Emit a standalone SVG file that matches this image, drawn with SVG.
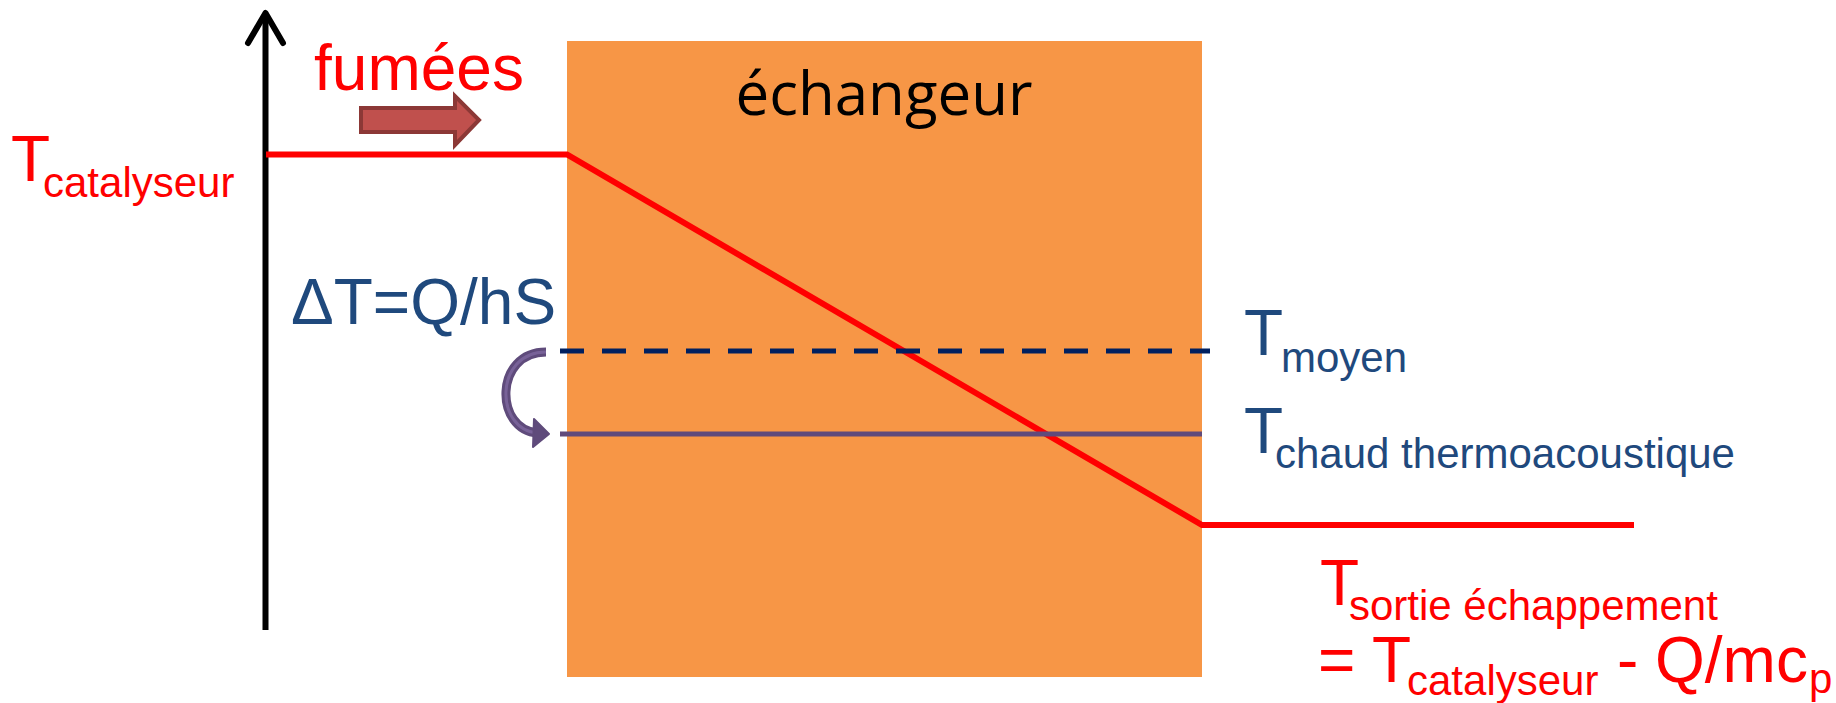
<svg xmlns="http://www.w3.org/2000/svg" width="1836" height="703" viewBox="0 0 1836 703">
<style>
.red{fill:#FF0000;font-family:"Liberation Sans",Arial,sans-serif}
.blue{fill:#1F497D;font-family:"Liberation Sans",Arial,sans-serif}
.big{font-size:64px}
.sub{font-size:42px}
</style>
<rect width="1836" height="703" fill="#FFFFFF"/>
<g id="echangeur">
<rect x="567" y="41" width="635" height="636" fill="#F79646"/>
<text x="884" y="115" text-anchor="middle" font-family="'Open Sans','DejaVu Sans',sans-serif" font-size="60" fill="#000000">échangeur</text>
</g>
<g id="axis">
<line x1="265.5" y1="630" x2="265.5" y2="16" stroke="#000000" stroke-width="6"/>
<polyline points="248,43 265.5,13 283,43" fill="none" stroke="#000000" stroke-width="6" stroke-linecap="round" stroke-linejoin="round"/>
</g>
<g id="fumees">
<text x="314" y="90" class="red" font-size="64">fumées</text>
<polygon points="361,108 455,108 455,96 479,120 455,145 455,132 361,132" fill="#C0504D" stroke="#8C3836" stroke-width="4" stroke-linejoin="miter"/>
</g>
<g id="connectors">
<polyline points="266,154.5 567,154.5 1202,525 1634,525" fill="none" stroke="#FF0000" stroke-width="6" stroke-linejoin="miter"/>
<line x1="560" y1="351" x2="1210" y2="351" stroke="#002060" stroke-width="5" stroke-dasharray="24 18"/>
<line x1="560" y1="434" x2="1202" y2="434" stroke="#604A7B" stroke-width="5"/>
<path d="M546,352 C494,352 494,430 538,433" fill="none" stroke="#5F4B7B" stroke-width="9"/>
<path d="M546,352 C494,352 494,430 538,433" fill="none" stroke="#7E68A0" stroke-width="3" opacity="0.8"/>
<polygon points="549,434 534,419 533,447" fill="#5F4B7B" stroke="#5F4B7B" stroke-width="2" stroke-linejoin="round"/>
</g>
<g id="t-catalyseur">
<text class="red"><tspan x="11" y="181" class="big">T</tspan><tspan x="43" y="197" class="sub">catalyseur</tspan></text>
</g>
<g id="delta-t">
<text x="291" y="324" class="blue big">ΔT=Q/hS</text>
</g>
<g id="t-moyen">
<text class="blue"><tspan x="1244" y="355" class="big">T</tspan><tspan x="1281" y="372" class="sub">moyen</tspan></text>
</g>
<g id="t-chaud">
<text class="blue"><tspan x="1244" y="453" class="big">T</tspan><tspan x="1275" y="468" class="sub">chaud thermoacoustique</tspan></text>
</g>
<g id="t-sortie">
<text class="red"><tspan x="1320" y="605" class="big">T</tspan><tspan x="1349" y="620" class="sub">sortie échappement</tspan></text>
<text class="red"><tspan x="1318" y="682" class="big">=</tspan><tspan x="1372" y="682" class="big">T</tspan><tspan x="1407" y="695" class="sub">catalyseur</tspan><tspan x="1617" y="682" class="big">-</tspan><tspan x="1655" y="682" class="big">Q/mc</tspan><tspan x="1809" y="693" class="sub">p</tspan></text>
</g>
</svg>
